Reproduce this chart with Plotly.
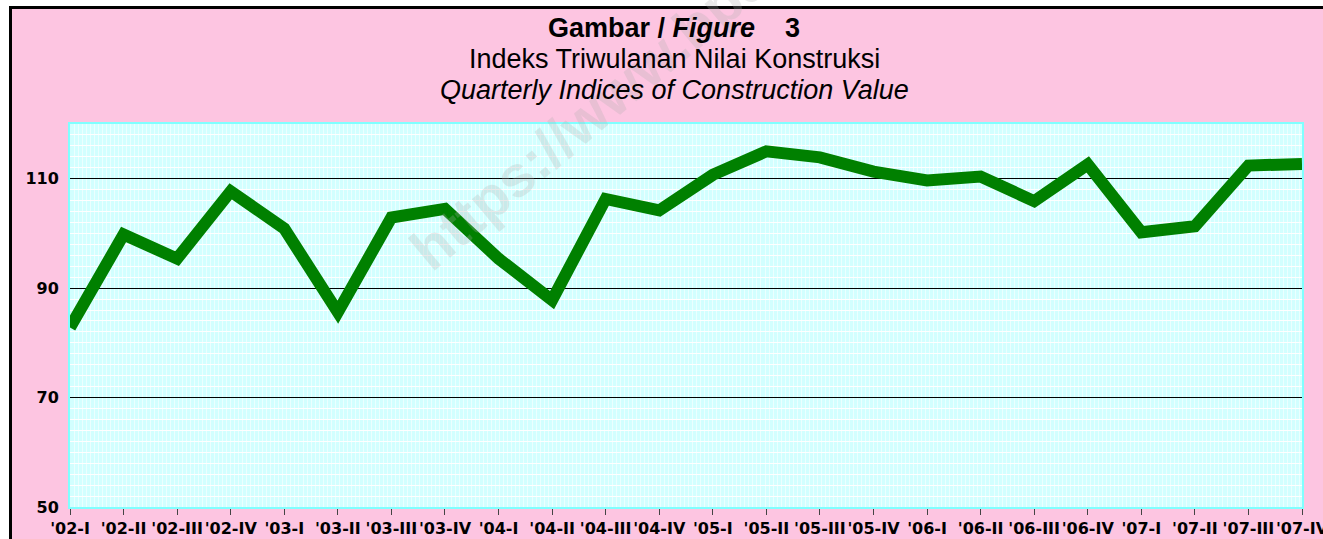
import plotly.graph_objects as go

# ---- data ----
quarters = ["'02-I", "'02-II", "'02-III", "'02-IV",
            "'03-I", "'03-II", "'03-III", "'03-IV",
            "'04-I", "'04-II", "'04-III", "'04-IV",
            "'05-I", "'05-II", "'05-III", "'05-IV",
            "'06-I", "'06-II", "'06-III", "'06-IV",
            "'07-I", "'07-II", "'07-III", "'07-IV"]
index_values = [82.8, 99.8, 95.4, 107.7,
                100.9, 85.6, 102.9, 104.5,
                95.4, 87.8, 106.3, 104.2,
                110.7, 115.0, 113.9, 111.3,
                109.7, 110.4, 105.9, 112.6,
                100.2, 101.3, 112.4, 112.7]
y_ticks = [50, 70, 90, 110]

title_line1 = "<b>Gambar / <i>Figure</i>    3</b>"
title_line2 = "Indeks Triwulanan Nilai Konstruksi"
title_line3 = "<i>Quarterly Indices of Construction Value</i>"
watermark = "https://www.bps.go.id"

# ---- layout geometry (pixels) ----
W, H = 1323, 539
L, R, T, B = 70, 21, 124, 32
PW, PH = W - L - R, H - T - B


def px_x(px):
    return (px - L) / PW


def px_y(py):
    return (H - B - py) / PH


PINK = "#FDC5E1"
CYAN_BG = "#D2FFFF"

xpos = list(range(len(quarters)))

fig = go.Figure()
fig.add_trace(go.Scatter(
    x=xpos, y=index_values, mode="lines",
    line=dict(color="#008000", width=12),
    hoverinfo="skip", showlegend=False,
))

fig.update_xaxes(
    automargin=False,
    range=[0, len(quarters) - 1],
    tickmode="array", tickvals=xpos, ticktext=quarters,
    tickangle=0, ticklabeloverflow="allow",
    ticks="outside", ticklen=6, tickwidth=1, tickcolor="#444",
    tickfont=dict(family="DejaVu Sans", size=16, color="black", weight="bold"),
    showgrid=False, zeroline=False,
    showline=True, linecolor="#80FFFF", linewidth=2, mirror=True,
    minor=dict(tickmode="linear", tick0=0, dtick=0.075, showgrid=True,
               gridcolor="rgba(255,255,255,0.55)", gridwidth=1, ticks=""),
)
fig.update_yaxes(
    automargin=False,
    range=[50, 120],
    tickmode="array", tickvals=y_ticks,
    ticks="", ticklabelstandoff=6,
    tickfont=dict(family="DejaVu Sans", size=16, color="black", weight="bold"),
    showgrid=True, gridcolor="black", gridwidth=1, zeroline=False,
    showline=True, linecolor="#80FFFF", linewidth=2, mirror=True,
    minor=dict(tickmode="linear", tick0=50, dtick=2, showgrid=True,
               gridcolor="white", gridwidth=1, ticks=""),
)

title_font = dict(family="Liberation Sans", size=27, color="black")
cx = px_x(674)
annotations = [
    dict(text=watermark, x=px_x(648), y=px_y(64), xref="paper", yref="paper",
         xanchor="center", yanchor="middle", showarrow=False, textangle=-40,
         font=dict(family="Liberation Sans", size=58, weight="bold",
                   color="rgba(175,175,175,0.26)")),
    dict(text=title_line1, x=cx, y=px_y(28), xref="paper", yref="paper",
         xanchor="center", yanchor="middle", showarrow=False, font=title_font),
    dict(text=title_line2, x=cx, y=px_y(59), xref="paper", yref="paper",
         xanchor="center", yanchor="middle", showarrow=False, font=title_font),
    dict(text=title_line3, x=cx, y=px_y(90), xref="paper", yref="paper",
         xanchor="center", yanchor="middle", showarrow=False, font=title_font),
]

shapes = [
    # white margins outside the black frame
    dict(type="rect", xref="paper", yref="paper", layer="above",
         x0=px_x(-5), x1=px_x(9), y0=px_y(H + 20), y1=px_y(-5),
         fillcolor="white", line=dict(width=0)),
    dict(type="rect", xref="paper", yref="paper", layer="above",
         x0=px_x(-5), x1=px_x(W + 20), y0=px_y(6), y1=px_y(-5),
         fillcolor="white", line=dict(width=0)),
    # black frame (left and top)
    dict(type="rect", xref="paper", yref="paper", layer="above",
         x0=px_x(9), x1=px_x(12), y0=px_y(H + 20), y1=px_y(6),
         fillcolor="black", line=dict(width=0)),
    dict(type="rect", xref="paper", yref="paper", layer="above",
         x0=px_x(9), x1=px_x(W + 20), y0=px_y(9), y1=px_y(6),
         fillcolor="black", line=dict(width=0)),
]

fig.update_layout(
    template="none",
    width=W, height=H, autosize=False,
    margin=dict(l=L, r=R, t=T, b=B, pad=0),
    paper_bgcolor=PINK, plot_bgcolor=CYAN_BG,
    annotations=annotations, shapes=shapes,
    showlegend=False,
)

fig.write_html("out.html")
